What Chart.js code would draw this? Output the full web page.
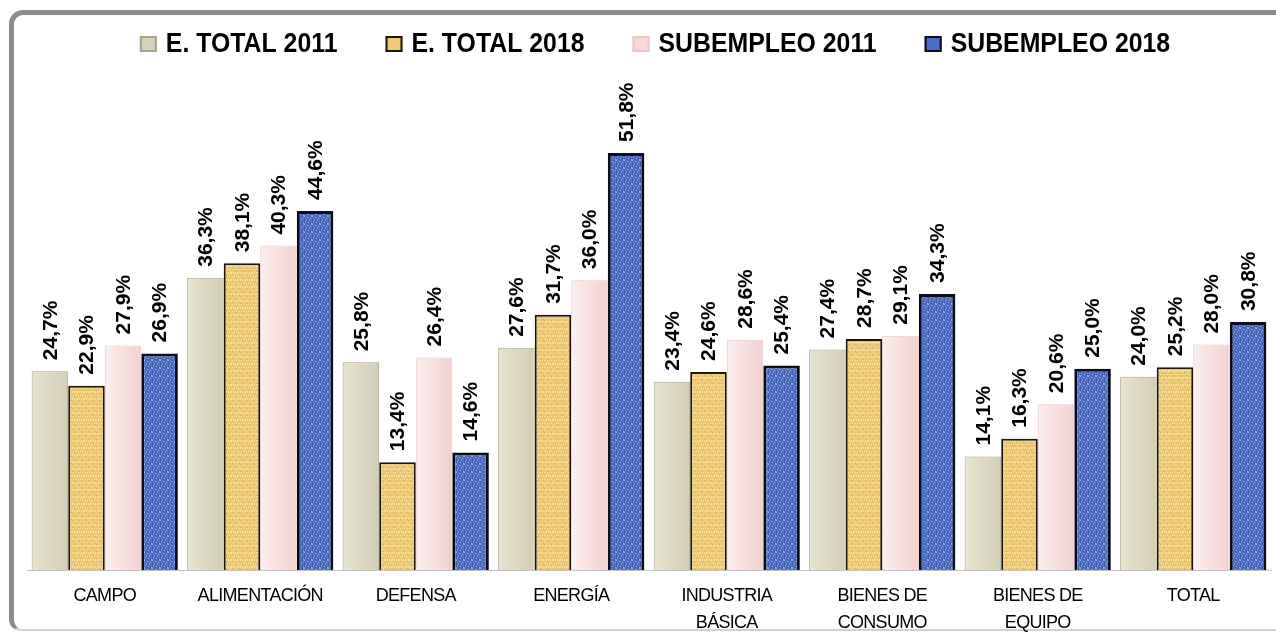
<!DOCTYPE html>
<html>
<head>
<meta charset="UTF-8">
<title>Empleo total y subempleo</title>
<style>
  html, body { margin: 0; padding: 0; background: #fff; }
  #wrap { position: relative; width: 1276px; height: 633px; overflow: hidden; }
  #frame { position: absolute; left: 9px; top: 10px; width: 1300px; height: 621px; box-sizing: border-box;
           border-left: 5px solid #8c8c8c; border-top: 5px solid #8c8c8c; border-bottom: 2px solid #d2d2d2;
           border-radius: 14px 0 0 12px; }
  canvas { position: absolute; left: 0; top: 0; }
</style>
<script src="https://cdn.jsdelivr.net/npm/chart.js"></script>
</head>
<body>
<div id="wrap">
  <div id="frame"></div>
  <canvas id="chart" width="1276" height="633"></canvas>
</div>
<script>
// categories and series (percent)
const categories = [['CAMPO'], ['ALIMENTACIÓN'], ['DEFENSA'], ['ENERGÍA'],
                    ['INDUSTRIA', 'BÁSICA'], ['BIENES DE', 'CONSUMO'], ['BIENES DE', 'EQUIPO'], ['TOTAL']];
const seriesNames = ['E. TOTAL 2011', 'E. TOTAL 2018', 'SUBEMPLEO 2011', 'SUBEMPLEO 2018'];
const eTotal2011 = [24.7, 36.3, 25.8, 27.6, 23.4, 27.4, 14.1, 24.0];
const eTotal2018 = [22.9, 38.1, 13.4, 31.7, 24.6, 28.7, 16.3, 25.2];
const subempleo2011 = [27.9, 40.3, 26.4, 36.0, 28.6, 29.1, 20.6, 28.0];
const subempleo2018 = [26.9, 44.6, 14.6, 51.8, 25.4, 34.3, 25.0, 30.8];

const CAT_PCT = 0.94;

// small textures for the gold and blue bars
function makePattern(size, base, dots) {
    const c = document.createElement('canvas');
    c.width = size; c.height = size;
    const g = c.getContext('2d');
    g.fillStyle = base;
    g.fillRect(0, 0, size, size);
    for (let i = 0; i < size; i++) {
        for (let j = 0; j < size; j++) {
            for (const d of dots) {
                if ((i * d.a + j * d.b) % d.m === 0) {
                    g.fillStyle = d.color;
                    g.fillRect(i, j, 1, 1);
                    break;
                }
            }
        }
    }
    return g.createPattern(c, 'repeat');
}

const goldPattern = makePattern(7, '#eec872', [
    { a: 3, b: 5, m: 6, color: '#f8dd9c' },
    { a: 5, b: 2, m: 7, color: '#d6ae58' }
]);
const bluePattern = makePattern(8, '#4a6cc4', [
    { a: 3, b: 5, m: 7, color: '#8ea7e6' },
    { a: 5, b: 3, m: 6, color: '#2f4e9e' },
    { a: 1, b: 4, m: 9, color: '#6d8ad6' }
]);

// per-bar horizontal gradient, bar position taken from the x scale
function barGradient(stops) {
    return function (ctx) {
        const chart = ctx.chart;
        const xs = chart.scales.x;
        if (!xs || ctx.type !== 'data' || !isFinite(xs.width) || xs.width <= 0) return stops[1];
        const n = chart.data.datasets.length;
        const catW = xs.width / chart.data.labels.length;
        const groupW = catW * CAT_PCT;
        const barW = groupW / n;
        const left = xs.getPixelForValue(ctx.dataIndex) - groupW / 2 + ctx.datasetIndex * barW;
        const gr = chart.ctx.createLinearGradient(left, 0, left + barW, 0);
        gr.addColorStop(0, stops[0]);
        gr.addColorStop(0.5, stops[1]);
        gr.addColorStop(1, stops[2]);
        return gr;
    };
}

const fmt = v => v.toFixed(1).replace('.', ',') + '%';

// tighter letter spacing for the category labels
const tightTicks = {
    id: 'tightTicks',
    beforeDraw(chart) { chart.ctx.letterSpacing = '-0.7px'; },
    beforeDatasetsDraw(chart) { chart.ctx.letterSpacing = '0px'; }
};

const valueLabels = {
    id: 'valueLabels',
    afterDatasetsDraw(chart) {
        const ctx = chart.ctx;
        ctx.save();
        ctx.font = 'bold 21px Arial, "Liberation Sans", sans-serif';
        ctx.fillStyle = '#000';
        ctx.textAlign = 'left';
        ctx.textBaseline = 'middle';
        chart.data.datasets.forEach((ds, di) => {
            chart.getDatasetMeta(di).data.forEach((bar, i) => {
                ctx.save();
                ctx.translate(bar.x + 1, bar.y - 11);
                ctx.rotate(-Math.PI / 2);
                ctx.fillText(fmt(ds.data[i]), 0, 0);
                ctx.restore();
            });
        });
        ctx.restore();
    }
};

const legendRow = {
    id: 'legendRow',
    afterDraw(chart) {
        const ctx = chart.ctx;
        const area = chart.chartArea;
        const sx = 0.92, box = 17, gapBox = 9, gapItem = 48;
        ctx.save();
        ctx.font = 'bold 27px Arial, "Liberation Sans", sans-serif';
        ctx.textBaseline = 'alphabetic';
        ctx.textAlign = 'left';
        const widths = seriesNames.map(s => ctx.measureText(s).width * sx);
        const total = widths.reduce((a, w) => a + box + gapBox + w, 0) + gapItem * (seriesNames.length - 1);
        let x = (area.left + area.right) / 2 + 6 - total / 2;
        chart.data.datasets.forEach((ds, i) => {
            ctx.fillStyle = ds.legendFill;
            ctx.fillRect(x, 36, box, box - 1);
            ctx.lineWidth = 2;
            ctx.strokeStyle = ds.borderColor;
            ctx.strokeRect(x + 1, 37, box - 2, box - 3);
            x += box + gapBox;
            ctx.save();
            ctx.translate(x, 52);
            ctx.scale(sx, 1);
            ctx.fillStyle = '#000';
            ctx.fillText(seriesNames[i], 0, 0);
            ctx.restore();
            x += widths[i] + gapItem;
        });
        ctx.restore();
    }
};

new Chart(document.getElementById('chart'), {
    type: 'bar',
    data: {
        labels: categories,
        datasets: [
            { label: seriesNames[0], data: eTotal2011,
              backgroundColor: barGradient(['#e7e4d1', '#dcd8c2', '#d2ceb6']), legendFill: '#d6d2ba',
              borderColor: '#a6a28b', borderWidth: 1 },
            { label: seriesNames[1], data: eTotal2018,
              backgroundColor: goldPattern, legendFill: '#eec872',
              borderColor: '#1c1508', borderWidth: 2 },
            { label: seriesNames[2], data: subempleo2011,
              backgroundColor: barGradient(['#fcefef', '#f9dfdf', '#f2d0d0']), legendFill: '#f6dada',
              borderColor: '#e9c7c7', borderWidth: 1 },
            { label: seriesNames[3], data: subempleo2018,
              backgroundColor: bluePattern, legendFill: '#4a6cc4',
              borderColor: '#0b0b1c', borderWidth: 3 }
        ]
    },
    options: {
        responsive: false,
        animation: false,
        datasets: { bar: { barPercentage: 1, categoryPercentage: CAT_PCT } },
        layout: { padding: { left: 27, right: 5, top: 87, bottom: 0 } },
        plugins: { legend: { display: false }, tooltip: { enabled: false } },
        scales: {
            x: {
                grid: { display: false, drawTicks: false },
                border: { display: true, color: '#c4c4c4', width: 1 },
                ticks: {
                    color: '#000',
                    font: { family: 'Arial, "Liberation Sans", sans-serif', size: 18, lineHeight: 1.5 },
                    padding: 13, maxRotation: 0, autoSkip: false
                },
                afterFit(scale) { scale.height = 63; }
            },
            y: { display: false, min: 0, max: 60 }
        }
    },
    plugins: [tightTicks, valueLabels, legendRow]
});
</script>
</body>
</html>
